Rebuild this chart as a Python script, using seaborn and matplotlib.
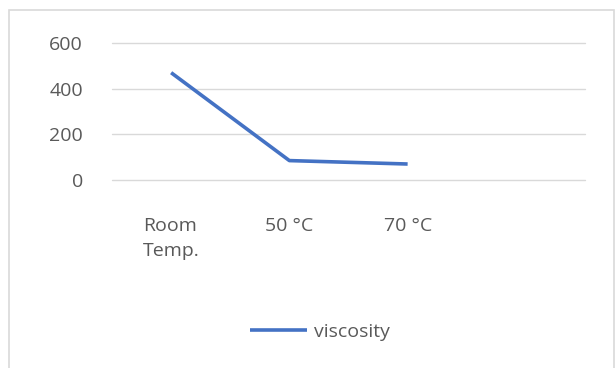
import matplotlib
matplotlib.use("Agg")
import matplotlib.pyplot as plt
from matplotlib.patches import Rectangle
import seaborn as sns
import pandas as pd

categories = ["Room\nTemp.", "50 °C", "70 °C", ""]
measured = ["Room\nTemp.", "50 °C", "70 °C"]
viscosity = [470, 85, 70]
y_ticks = [0, 200, 400, 600]

sns.set_theme(style="white")
plt.rcParams["font.family"] = ["Open Sans", "DejaVu Sans"]

FS = 14

df = pd.DataFrame({
    "pos": [categories.index(c) for c in measured],
    "viscosity": viscosity,
})

fig = plt.figure(figsize=(6.16, 3.68), dpi=100)
ax = fig.add_axes([112 / 616, 1 - 180 / 368, 473 / 616, 137 / 368])

sns.lineplot(data=df, x="pos", y="viscosity", ax=ax, color="#4472C4",
             linewidth=2.6, label="viscosity", solid_capstyle="butt")

ax.set_xlim(-0.5, len(categories) - 0.5)
ax.set_ylim(0, 600)
ax.set_yticks(y_ticks)
ax.set_yticklabels([str(t) for t in y_ticks])
ax.set_xticks(range(len(categories)))
ax.set_xticklabels(categories, multialignment="left", linespacing=1.45)
ax.set_xlabel("")
ax.set_ylabel("")

ax.grid(axis="y", color="#d9d9d9", linewidth=1)
for gl in ax.get_ygridlines():
    gl.set_clip_on(False)
ax.set_axisbelow(True)
for s in ax.spines.values():
    s.set_visible(False)
ax.tick_params(axis="both", length=0, colors="#595959", labelsize=FS)
ax.tick_params(axis="y", pad=21)
ax.tick_params(axis="x", pad=27)

leg = ax.legend(loc="center", bbox_to_anchor=(320 / 616, 1 - 332 / 368),
                bbox_transform=fig.transFigure, frameon=False, fontsize=FS,
                handlelength=2.9, handletextpad=0.35)
for t in leg.get_texts():
    t.set_color("#595959")

# chart frame
fig.patches.append(Rectangle((9 / 616, -0.1), 605 / 616, 1.1 - 10.5 / 368,
                             transform=fig.transFigure, fill=False,
                             edgecolor="#d9d9d9", linewidth=1.2))

fig.savefig("out.png", dpi=100, facecolor="white")
